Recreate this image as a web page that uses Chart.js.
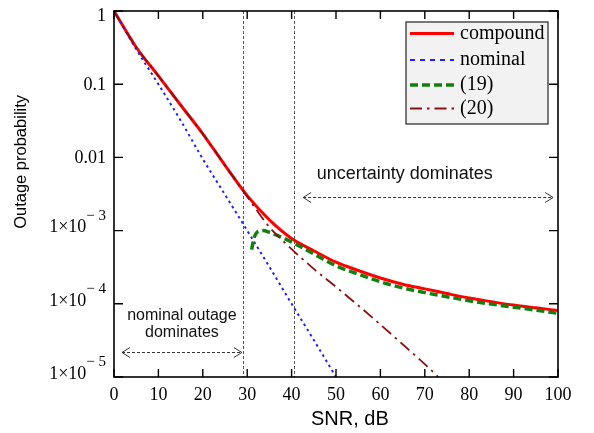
<!DOCTYPE html>
<html><head><meta charset="utf-8">
<script src="https://cdn.jsdelivr.net/npm/chart.js@4/dist/chart.umd.min.js"></script>
<style>html,body{margin:0;padding:0;background:#fff}</style>
</head><body>
<canvas id="c" width="594" height="433" style="width:594px;height:433px;display:block"></canvas>
<script>
// ---- data ----
const seriesLabels = ['compound', 'nominal', '(19)', '(20)'];

const compoundSNR = [0,5,10,15,20,25,30,35,40,45,50,55,60,65,70,75,80,85,90,95,100];
const compoundOut = [1,0.32,0.13,0.052,0.021,0.0078,0.003,0.0014,7.8e-4,5.3e-4,3.7e-4,2.85e-4,2.25e-4,1.85e-4,1.6e-4,1.38e-4,1.2e-4,1.07e-4,9.6e-5,8.8e-5,8.1e-5];

const nominalSNR = [0,5,10,15,20,25,30,35,40,45,50];
const nominalOut = [1,0.3,0.1,0.032,0.0095,0.0031,0.001,3.2e-4,1.0e-4,3.2e-5,1.0e-5];

const eq19SNR = [31,31.5,32.3,33.5,35,37,40,45,50,55,60,65,70,75,80,85,90,95,100];
const eq19Out = [5.5e-4,7.8e-4,9.6e-4,1.0e-3,9.5e-4,8.5e-4,7.0e-4,4.8e-4,3.3e-4,2.55e-4,2.0e-4,1.65e-4,1.42e-4,1.25e-4,1.1e-4,9.9e-5,9.0e-5,8.2e-5,7.4e-5];

const eq20SNR = [0,5,10,15,20,25,30,35,40,45,50,55,60,65,70,73];
const eq20Out = [1,0.32,0.13,0.052,0.021,0.0078,0.0029,0.00112,5.6e-4,3.0e-4,1.7e-4,9.5e-5,5.2e-5,2.8e-5,1.5e-5,1.0e-5];

const yTickValues = [1, 0.1, 0.01, 1e-3, 1e-4, 1e-5];
const yTickBase = ['1', '0.1', '0.01', '1×10', '1×10', '1×10'];
const yTickExp = ['', '', '', '− 3', '− 4', '− 5'];

const regionLines = [29, 40.6];   // SNR of the dashed vertical separators
const annotations = {
  uncertainty: { text: ['uncertainty dominates'], size: 18, textX: 65.5, textY: [5.9e-3], arrowFrom: 42.6, arrowTo: 98.9, arrowY: 2.9e-3 },
  nominal: { text: ['nominal outage', 'dominates'], size: 16, textX: 15.3, textY: [7.0e-5, 4.0e-5], arrowFrom: 1.8, arrowTo: 28.8, arrowY: 2.2e-5 }
};

const pts = (xs, ys) => xs.map((x, i) => ({x, y: ys[i]}));
const SERIF = '"Liberation Serif", "Times New Roman", serif';
const SANS = '"Liberation Sans", Arial, sans-serif';

const overlay = {
  id: 'overlay',
  beforeDatasetsDraw(chart) {
    const {ctx, chartArea: a, scales: {x}} = chart;
    ctx.save();
    ctx.strokeStyle = '#555';
    ctx.lineWidth = 1;
    ctx.setLineDash([3, 2]);
    regionLines.forEach(v => {
      const px = Math.round(x.getPixelForValue(v)) + 0.5;
      ctx.beginPath(); ctx.moveTo(px, a.top); ctx.lineTo(px, a.bottom); ctx.stroke();
    });
    ctx.restore();
  },
  afterDraw(chart) {
    const {ctx, chartArea: a, scales: {x, y}} = chart;
    ctx.save();
    // y tick labels (with raised exponents)
    ctx.fillStyle = '#000';
    ctx.textBaseline = 'middle';
    ctx.textAlign = 'right';
    yTickValues.forEach((v, i) => {
      let py = y.getPixelForValue(v);
      const rx = a.left - 8;
      if (yTickExp[i]) {
        ctx.font = '15px ' + SERIF;
        const ew = ctx.measureText(yTickExp[i]).width;
        ctx.fillText(yTickExp[i], rx, py - 15);
        ctx.font = '18px ' + SERIF;
        ctx.fillText(yTickBase[i], rx - ew, py - 3);
      } else {
        if (i === 0) py += 4;
        ctx.font = '18px ' + SERIF;
        ctx.fillText(yTickBase[i], rx, py + 1);
      }
    });
    // annotations
    Object.values(annotations).forEach(an => {
      ctx.fillStyle = '#111';
      ctx.font = an.size + 'px ' + SANS;
      ctx.textAlign = 'center';
      ctx.textBaseline = 'middle';
      an.text.forEach((t, i) => ctx.fillText(t, x.getPixelForValue(an.textX), y.getPixelForValue(an.textY[i])));
      const x1 = x.getPixelForValue(an.arrowFrom), x2 = x.getPixelForValue(an.arrowTo);
      const ay = Math.round(y.getPixelForValue(an.arrowY)) + 0.5;
      ctx.strokeStyle = '#333';
      ctx.lineWidth = 1;
      ctx.setLineDash([3, 2]);
      ctx.beginPath(); ctx.moveTo(x1, ay); ctx.lineTo(x2, ay); ctx.stroke();
      ctx.setLineDash([]);
      ctx.beginPath();
      ctx.moveTo(x1 + 8, ay - 5); ctx.lineTo(x1, ay); ctx.lineTo(x1 + 8, ay + 5);
      ctx.moveTo(x2 - 8, ay - 5); ctx.lineTo(x2, ay); ctx.lineTo(x2 - 8, ay + 5);
      ctx.stroke();
    });
    // frame and inward ticks
    ctx.strokeStyle = '#000';
    ctx.lineWidth = 1.6;
    ctx.setLineDash([]);
    ctx.strokeRect(a.left, a.top, a.right - a.left, a.bottom - a.top);
    ctx.lineWidth = 1.4;
    ctx.beginPath();
    x.ticks.forEach(t => {
      const px = x.getPixelForValue(t.value);
      ctx.moveTo(px, a.bottom); ctx.lineTo(px, a.bottom - 8);
      ctx.moveTo(px, a.top); ctx.lineTo(px, a.top + 8);
    });
    yTickValues.forEach(v => {
      const py = y.getPixelForValue(v);
      ctx.moveTo(a.left, py); ctx.lineTo(a.left + 9, py);
      ctx.moveTo(a.right, py); ctx.lineTo(a.right - 9, py);
    });
    ctx.stroke();
    // legend
    const lx = a.right - 152, ly = a.top + 11, lw = 142, lh = 102;
    ctx.fillStyle = '#f2f2f2';
    ctx.fillRect(lx, ly, lw, lh);
    ctx.strokeStyle = '#222';
    ctx.lineWidth = 1.2;
    ctx.strokeRect(lx, ly, lw, lh);
    const rowY = [11.5, 38, 63, 86.5];
    chart.data.datasets.forEach((ds, i) => {
      const ry = ly + rowY[i];
      ctx.strokeStyle = ds.borderColor;
      ctx.lineWidth = ds.borderWidth;
      ctx.setLineDash(ds.legendDash || ds.borderDash || []);
      ctx.beginPath(); ctx.moveTo(lx + 4, ry); ctx.lineTo(lx + 48, ry); ctx.stroke();
      ctx.setLineDash([]);
      ctx.fillStyle = '#000';
      ctx.font = '20px ' + SERIF;
      ctx.textAlign = 'left';
      ctx.textBaseline = 'middle';
      ctx.fillText(ds.label, lx + 54, ry);
    });
    ctx.restore();
  }
};

new Chart(document.getElementById('c'), {
  type: 'line',
  data: {
    datasets: [
      { label: seriesLabels[0], data: pts(compoundSNR, compoundOut), borderColor: '#ff0000', borderWidth: 3, order: 3 },
      { label: seriesLabels[1], data: pts(nominalSNR, nominalOut), borderColor: '#1f1fff', borderWidth: 2, borderDash: [2.5, 3.5], legendDash: [5, 5], order: 2 },
      { label: seriesLabels[2], data: pts(eq19SNR, eq19Out), borderColor: '#108010', borderWidth: 3.5, borderDash: [8, 4], order: 1 },
      { label: seriesLabels[3], data: pts(eq20SNR, eq20Out), borderColor: '#8b1010', borderWidth: 1.8, borderDash: [12, 5, 2.5, 5], order: 0 }
    ]
  },
  options: {
    responsive: false,
    animation: false,
    devicePixelRatio: 1,
    layout: { padding: { left: 0, right: 36, top: 11, bottom: 0 } },
    elements: { point: { radius: 0 }, line: { tension: 0.35, cubicInterpolationMode: 'monotone', backgroundColor: 'transparent', fill: false } },
    plugins: { legend: { display: false }, tooltip: { enabled: false } },
    scales: {
      x: {
        type: 'linear', min: 0, max: 100,
        grid: { display: false, drawTicks: false },
        border: { display: false },
        ticks: { stepSize: 10, padding: 7, color: '#000', font: { family: SERIF, size: 18 } },
        title: { display: true, text: '     SNR, dB', color: '#000', font: { family: SANS, size: 20 }, padding: { top: 0, bottom: 2 } },
        afterFit(s) { s.height = 56; }
      },
      y: {
        type: 'logarithmic', min: 1e-5, max: 1,
        grid: { display: false, drawTicks: false },
        border: { display: false },
        afterBuildTicks(s) { s.ticks = yTickValues.map(v => ({ value: v })); },
        ticks: { display: false },
        title: { display: true, text: '              Outage probability', color: '#000', font: { family: SANS, size: 16.5 }, padding: { top: 12, bottom: 0 } },
        afterFit(s) { s.width = 114; }
      }
    }
  },
  plugins: [overlay]
});
</script>
</body></html>
